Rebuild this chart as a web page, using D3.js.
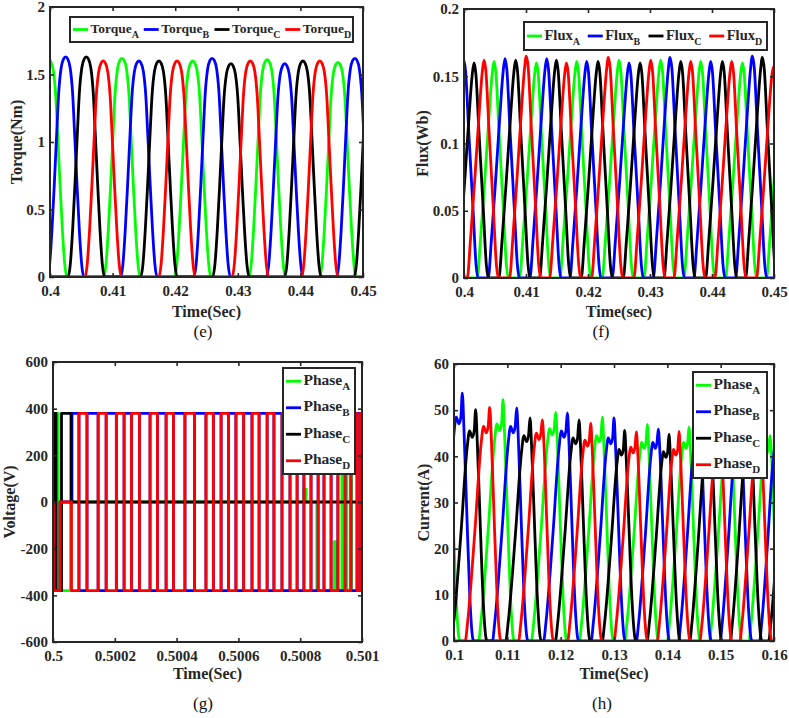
<!DOCTYPE html>
<html>
<head>
<meta charset="utf-8">
<script src="https://cdn.jsdelivr.net/npm/d3@7"></script>
<style>
  body { margin: 0; background: #fff; }
</style>
</head>
<body>
<svg id="fig" width="789" height="718"></svg>
<script>
// ---------- data ----------
const phaseColors = ["#00ff00", "#0000ff", "#000000", "#ff0000"]; // A B C D
const phaseNames = ["A", "B", "C", "D"];

// (e) torque: pulse peaks [time (s), peak (Nm)]
const torqueA = [[0.3998, 1.61], [0.4115, 1.62], [0.4228, 1.60], [0.4347, 1.61], [0.4460, 1.59]];
const torqueB = [[0.4025, 1.63], [0.4142, 1.60], [0.4259, 1.62], [0.4375, 1.58], [0.4487, 1.62]];
const torqueC = [[0.4058, 1.63], [0.4174, 1.60], [0.4289, 1.58], [0.4404, 1.60], [0.4515, 1.60]];
const torqueD = [[0.3972, 1.60], [0.4085, 1.60], [0.4203, 1.60], [0.4320, 1.60], [0.4431, 1.60]];
// one torque pulse, [offset in half-widths, fraction of peak]
const torqueShape = [[-1, 0], [-0.88, 0.06], [-0.75, 0.22], [-0.62, 0.43], [-0.5, 0.64], [-0.38, 0.84], [-0.25, 0.95], [-0.12, 0.99], [0, 1],
  [0.12, 0.99], [0.25, 0.95], [0.38, 0.84], [0.5, 0.64], [0.62, 0.43], [0.75, 0.22], [0.88, 0.06], [1, 0]];
const torqueHalfWidth = 0.0029;

// (f) flux: pulse peaks [time (s), peak (Wb)]
const fluxA = [[0.40484, 0.161], [0.41167, 0.160], [0.41817, 0.161], [0.42500, 0.162], [0.43172, 0.162], [0.43817, 0.161], [0.44489, 0.160], [0.45150, 0.160]];
const fluxB = [[0.39995, 0.162], [0.40661, 0.163], [0.41333, 0.163], [0.41978, 0.161], [0.42661, 0.160], [0.43323, 0.164], [0.43978, 0.161], [0.44651, 0.165]];
const fluxC = [[0.40161, 0.160], [0.40833, 0.162], [0.41489, 0.162], [0.42161, 0.161], [0.42839, 0.160], [0.43495, 0.161], [0.44167, 0.161], [0.44812, 0.164]];
const fluxD = [[0.40323, 0.162], [0.41005, 0.165], [0.41651, 0.160], [0.42328, 0.164], [0.43011, 0.162], [0.43656, 0.161], [0.44317, 0.161], [0.44989, 0.157]];
// one flux pulse, [seconds from peak, fraction of peak]
const fluxShape = [[-0.0027, 0], [-0.0022, 0.17], [-0.0015, 0.45], [-0.0008, 0.75], [-0.0003, 0.94], [0, 1],
  [0.0003, 0.95], [0.0008, 0.68], [0.0015, 0.32], [0.002, 0.06], [0.0023, 0]];

// (g) phase voltage: switching instants [time (s), volts], held until the next one
const voltA = [[0.5, 380], [0.5000162, -380], [0.5000566, 0], [0.500812, 55], [0.500819, 0], [0.500854, -380],
  [0.500911, -170], [0.500916, -380], [0.500935, 380], [0.500951, -380], [0.500966, 380], [0.501, 380]];
const voltB = [[0.5, -380], [0.5000227, 0], [0.5000615, 380],
  [0.500084, -380], [0.500110, 380], [0.500146, -380], [0.500172, 380], [0.500205, -380], [0.500230, 380],
  [0.500254, -380], [0.500280, 380], [0.500314, -380], [0.500338, 380], [0.500366, -380], [0.500390, 380],
  [0.500427, -380], [0.500458, 380], [0.500495, -380], [0.500519, 380], [0.500544, -380], [0.500568, 380],
  [0.500592, -380], [0.500617, 380], [0.500644, -380], [0.500667, 380], [0.500693, -380], [0.500715, 380],
  [0.500741, -380], [0.500767, 380], [0.500790, -380], [0.500812, 380], [0.500835, -380], [0.500858, 380],
  [0.500877, -380], [0.500900, 380], [0.500922, -380], [0.500945, 380], [0.500964, -380], [0.500984, 380],
  [0.500994, -380], [0.501, -380]];
const voltC = [[0.5, -380], [0.5000016, 380], [0.5000097, -380], [0.5000275, 380], [0.5000583, 0], [0.501, 0]];
const voltD = [[0.5, 0], [0.5000016, -380], [0.5000227, 0], [0.5000599, -380],
  [0.500084, 380], [0.500110, -380], [0.500146, 380], [0.500172, -380], [0.500205, 380], [0.500230, -380],
  [0.500254, 380], [0.500280, -380], [0.500314, 380], [0.500338, -380], [0.500366, 380], [0.500390, -380],
  [0.500427, 380], [0.500458, -380], [0.500495, 380], [0.500519, -380], [0.500544, 380], [0.500568, -380],
  [0.500592, 380], [0.500617, -380], [0.500644, 380], [0.500667, -380], [0.500693, 380], [0.500715, -380],
  [0.500741, 380], [0.500767, -380], [0.500790, 380], [0.500812, -380], [0.500835, 380], [0.500858, -380],
  [0.500877, 380], [0.500900, -380], [0.500922, 380], [0.500945, -380], [0.500964, 380], [0.500984, -380],
  [0.500994, 380], [0.501, 380]];

// (h) phase current: pulses [rise start, spike time, plateau (A), spike (A)]
const currA = [[0.0945, 0.09900, 46, 50], [0.1046, 0.10919, 47, 52.3], [0.1145, 0.11906, 46, 49.5], [0.1235, 0.12781, 44.5, 48.5],
  [0.1320, 0.13625, 43, 46.9], [0.1400, 0.14406, 43, 46.3], [0.1479, 0.15188, 42, 45], [0.1553, 0.15925, 42, 44.5]];
const currB = [[0.0970, 0.10156, 48.5, 53.7], [0.1072, 0.11175, 46.5, 50.5], [0.1168, 0.12125, 45.5, 49.4], [0.1257, 0.13000, 44, 48.3],
  [0.1342, 0.13831, 43, 45.9], [0.1421, 0.14613, 42.5, 45], [0.1499, 0.15375, 42, 44.5], [0.1573, 0.16113, 42, 44.5]];
const currC = [[0.0995, 0.10406, 45.5, 50.1], [0.1097, 0.11425, 44.5, 48.3], [0.1190, 0.12344, 44, 47.9], [0.1278, 0.13200, 41.5, 45.6],
  [0.1362, 0.14031, 41, 44.8], [0.1442, 0.14813, 41, 44.5], [0.1518, 0.15563, 41, 44], [0.1590, 0.16300, 41, 44]];
const currD = [[0.1021, 0.10669, 46.5, 50.6], [0.1121, 0.11656, 45, 47.9], [0.1213, 0.12563, 43.5, 47.2], [0.1300, 0.13419, 42, 45.3],
  [0.1381, 0.14219, 41.5, 45.4], [0.1461, 0.15000, 41, 44.5], [0.1536, 0.15750, 41, 44.3]];
// rise part [fraction of rise interval, fraction of plateau]; fall part [seconds after spike, fraction of plateau]
const currRise = [[0, 0], [0.1, 0.09], [0.4, 0.52], [0.65, 0.92], [0.75, 1.0], [0.86, 0.97], [0.94, 1.0]];
const currFall = [[0.0003, 0.95], [0.0008, 0.6], [0.0014, 0.2], [0.0019, 0.02], [0.0021, 0]];

// ticks
const torqueXTicks = [0.4, 0.41, 0.42, 0.43, 0.44, 0.45];
const torqueYTicks = [0, 0.5, 1, 1.5, 2];
const fluxXTicks = [0.4, 0.41, 0.42, 0.43, 0.44, 0.45];
const fluxYTicks = [0, 0.05, 0.1, 0.15, 0.2];
const voltXTicks = [0.5, 0.5002, 0.5004, 0.5006, 0.5008, 0.501];
const voltYTicks = [-600, -400, -200, 0, 200, 400, 600];
const currXTicks = [0.1, 0.11, 0.12, 0.13, 0.14, 0.15, 0.16];
const currYTicks = [0, 10, 20, 30, 40, 50, 60];

// ---------- drawing ----------
const svg = d3.select("#fig");
const font = "'Liberation Serif', 'Times New Roman', serif";
const ink = "#262626";

svg.append("rect").attr("width", 789).attr("height", 718).attr("fill", "#fff");

function makePanel(p) {
  const [x0, y0, x1, y1] = p.box;
  const x = d3.scaleLinear().domain(p.xDomain).range([x0, x1]);
  const y = d3.scaleLinear().domain(p.yDomain).range([y1, y0]);
  const g = svg.append("g");
  g.append("clipPath").attr("id", "clip-" + p.id)
    .append("rect").attr("x", x0).attr("y", y0).attr("width", x1 - x0).attr("height", y1 - y0);
  const plot = g.append("g").attr("clip-path", `url(#clip-${p.id})`);
  return { g, plot, x, y };
}

function finishPanel(P, p) {
  const [x0, y0, x1, y1] = p.box;
  const { g, x, y } = P;
  const fmt = (d) => String(d);

  const bottom = g.append("g").attr("transform", `translate(0,${y1})`)
    .call(d3.axisBottom(x).tickValues(p.xTicks).tickFormat(fmt).tickSizeInner(-4).tickSizeOuter(0).tickPadding(8.5));
  const left = g.append("g").attr("transform", `translate(${x0},0)`)
    .call(d3.axisLeft(y).tickValues(p.yTicks).tickFormat(fmt).tickSizeInner(-4).tickSizeOuter(0).tickPadding(5));
  const top = g.append("g").attr("transform", `translate(0,${y0})`)
    .call(d3.axisTop(x).tickValues(p.xTicks).tickFormat("").tickSizeInner(-4).tickSizeOuter(0));
  const right = g.append("g").attr("transform", `translate(${x1},0)`)
    .call(d3.axisRight(y).tickValues(p.yTicks).tickFormat("").tickSizeInner(-4).tickSizeOuter(0));

  [bottom, left, top, right].forEach((a) => {
    a.select(".domain").remove();
    a.selectAll("line").attr("stroke", ink).attr("stroke-width", 1.6);
    a.selectAll("text").attr("fill", ink).style("font-family", font).style("font-weight", "bold").style("font-size", "15px");
  });

  g.append("rect").attr("x", x0).attr("y", y0).attr("width", x1 - x0).attr("height", y1 - y0)
    .attr("fill", "none").attr("stroke", ink).attr("stroke-width", 2);

  // x label
  g.append("text").attr("x", (x0 + x1) / 2).attr("y", p.xLabelY).attr("text-anchor", "middle")
    .style("font-family", font).style("font-weight", "bold").style("font-size", "16px").attr("fill", ink)
    .text(p.xLabel);
  // y label
  g.append("text").attr("transform", `translate(${p.yLabelX},${(y0 + y1) / 2}) rotate(-90)`)
    .attr("text-anchor", "middle").attr("dy", "0.35em")
    .style("font-family", font).style("font-weight", "bold").style("font-size", "16px").attr("fill", ink)
    .text(p.yLabel);
  // caption
  svg.append("text").attr("x", p.capX).attr("y", p.capY).attr("text-anchor", "middle")
    .style("font-family", font).style("font-size", "17px").attr("fill", "#111")
    .text(p.caption);
}

function drawLegend(g, box, label, horizontal, size) {
  const [x0, y0, x1, y1] = box;
  g.append("rect").attr("x", x0).attr("y", y0).attr("width", x1 - x0).attr("height", y1 - y0)
    .attr("fill", "#fff").attr("stroke", ink).attr("stroke-width", 2);
  phaseNames.forEach((name, i) => {
    let lx, cy;
    if (horizontal) {
      lx = x0 + (i * (x1 - x0)) / 4;
      cy = (y0 + y1) / 2;
    } else {
      lx = x0;
      cy = y0 + ((y1 - y0) / 4) * (i + 0.5);
    }
    g.append("line").attr("x1", lx + 3).attr("x2", lx + 18).attr("y1", cy).attr("y2", cy)
      .attr("stroke", phaseColors[i]).attr("stroke-width", 2.8);
    const t = g.append("text").attr("x", lx + 20.5).attr("y", cy + 3.5)
      .style("font-family", font).style("font-weight", "bold").style("font-size", size + "px").attr("fill", ink);
    t.append("tspan").text(label);
    t.append("tspan").attr("dy", 5).style("font-size", Math.round(size * 0.72) + "px").text(name);
  });
}

function drawSeries(P, series, curve) {
  series.forEach((pts, i) => {
    P.plot.append("path").datum(pts)
      .attr("fill", "none").attr("stroke", phaseColors[i]).attr("stroke-width", 2.8)
      .attr("stroke-linejoin", "round")
      .attr("d", d3.line().x((d) => P.x(d[0])).y((d) => P.y(d[1])).curve(curve));
  });
}

// build a line through the pulses of one phase
function pulseLine(peaks, shapeFn, t0, t1) {
  const pts = [[t0, 0]];
  peaks.forEach((pk) => shapeFn(pk).forEach((q) => pts.push(q)));
  pts.push([t1, 0]);
  return pts.sort((a, b) => a[0] - b[0]);
}

// ----- (e) torque -----
const pe = { id: "e", box: [50, 7, 363, 277], xDomain: [0.4, 0.45], yDomain: [0, 2],
  xTicks: torqueXTicks, yTicks: torqueYTicks, xLabel: "Time(Sec)", yLabel: "Torque(Nm)",
  xLabelY: 317, yLabelX: 16, caption: "(e)", capX: 203, capY: 337 };
const Pe = makePanel(pe);
const torqueLines = [torqueA, torqueB, torqueC, torqueD].map((s) =>
  pulseLine(s, ([tp, v]) => torqueShape.map(([u, f]) => [tp + u * torqueHalfWidth, f * v]), 0.39, 0.46));
drawSeries(Pe, torqueLines, d3.curveMonotoneX);
finishPanel(Pe, pe);
drawLegend(Pe.g, [70, 17, 353, 42], "Torque", true, 13.5);

// ----- (f) flux -----
const pf = { id: "f", box: [464, 9, 774, 278], xDomain: [0.4, 0.45], yDomain: [0, 0.2],
  xTicks: fluxXTicks, yTicks: fluxYTicks, xLabel: "Time(sec)", yLabel: "Flux(Wb)",
  xLabelY: 317, yLabelX: 422, caption: "(f)", capX: 601, capY: 337 };
const Pf = makePanel(pf);
const fluxLines = [fluxA, fluxB, fluxC, fluxD].map((s) =>
  pulseLine(s, ([tp, v]) => fluxShape.map(([dt, f]) => [tp + dt, f * v]), 0.39, 0.46));
drawSeries(Pf, fluxLines, d3.curveMonotoneX);
finishPanel(Pf, pf);
drawLegend(Pf.g, [524, 22, 767, 50], "Flux", true, 14.5);

// ----- (g) voltage -----
const pg = { id: "g", box: [53, 362, 362, 642], xDomain: [0.5, 0.501], yDomain: [-600, 600],
  xTicks: voltXTicks, yTicks: voltYTicks, xLabel: "Time(Sec)", yLabel: "Voltage(V)",
  xLabelY: 679, yLabelX: 9, caption: "(g)", capX: 203, capY: 709 };
const Pg = makePanel(pg);
drawSeries(Pg, [voltA, voltB, voltC, voltD], d3.curveStepAfter);
finishPanel(Pg, pg);
drawLegend(Pg.g, [283, 368, 355, 474], "Phase", false, 15.5);

// ----- (h) current -----
const ph = { id: "h", box: [454, 364, 774, 641], xDomain: [0.1, 0.16], yDomain: [0, 60],
  xTicks: currXTicks, yTicks: currYTicks, xLabel: "Time(Sec)", yLabel: "Current(A)",
  xLabelY: 679, yLabelX: 423, caption: "(h)", capX: 602, capY: 709 };
const Ph = makePanel(ph);
const currLines = [currA, currB, currC, currD].map((s) =>
  pulseLine(s, ([ts, tk, p, v]) => [
    ...currRise.map(([u, f]) => [ts + u * (tk - ts), f * p]),
    [tk, v],
    ...currFall.map(([dt, f]) => [tk + dt, f * p]),
  ], 0.09, 0.17));
drawSeries(Ph, currLines, d3.curveMonotoneX);
finishPanel(Ph, ph);
drawLegend(Ph.g, [693, 372, 767, 478], "Phase", false, 15.5);
</script>
</body>
</html>
